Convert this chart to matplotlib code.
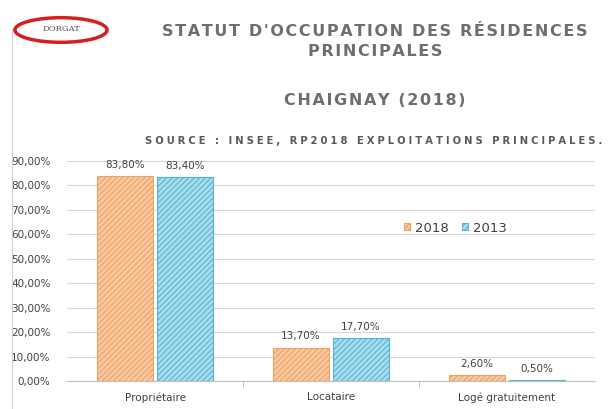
import numpy as np
import matplotlib.pyplot as plt
from matplotlib.patches import Ellipse

# Data
categories = ['Propriétaire', 'Locataire', 'Logé gratuitement']
vals_2018 = [83.8, 13.7, 2.6]
vals_2013 = [83.4, 17.7, 0.5]
labels_2018 = ['83,80%', '13,70%', '2,60%']
labels_2013 = ['83,40%', '17,70%', '0,50%']
yticks = [0, 10, 20, 30, 40, 50, 60, 70, 80, 90]


def spaced(s, sep='\u200a'):
    # mimic letter-spacing
    return sep.join(s)


plt.rcParams['hatch.linewidth'] = 0.8
fig = plt.figure(figsize=(6.15, 4.09), dpi=100)
ax = fig.add_axes([67/615, 1 - 381/409, 528/615, 220/409])

x = np.arange(len(categories))
w = 0.32
b1 = ax.bar(x - w/2 - 0.01, vals_2018, w, color='#F8C9A0', edgecolor='#EFA262',
            hatch='//////', linewidth=0.8, label='2018')
b2 = ax.bar(x + w/2 + 0.01, vals_2013, w, color='#A9DDEE', edgecolor='#55B4D4',
            hatch='//////', linewidth=0.8, label='2013')

for r, t in zip(b1, labels_2018):
    ax.text(r.get_x() + r.get_width()/2, r.get_height() + 2.5, t,
            ha='center', va='bottom', fontsize=7.5, color='#404040')
for r, t in zip(b2, labels_2013):
    ax.text(r.get_x() + r.get_width()/2, r.get_height() + 2.5, t,
            ha='center', va='bottom', fontsize=7.5, color='#404040')

ax.set_xlim(-0.5, 2.5)
ax.set_ylim(0, 90)
ax.set_yticks(yticks)
ax.set_yticklabels(['%d,00%%' % v for v in yticks], fontsize=7.5, color='#404040')
ax.set_xticks(x)
ax.set_xticklabels(categories, fontsize=7.5, color='#404040')
ax.tick_params(axis='y', length=0, pad=12)
ax.tick_params(axis='x', length=0, pad=8)
ax.set_xticks([0.5, 1.5], minor=True)
ax.tick_params(axis='x', which='minor', length=4, color='#BFBFBF', direction='out')
ax.yaxis.grid(True, color='#D9D9D9', linewidth=0.8)
ax.set_axisbelow(True)
for s in ['top', 'right', 'left']:
    ax.spines[s].set_visible(False)
ax.spines['bottom'].set_color('#BFBFBF')

ax.legend(loc='center left', bbox_to_anchor=(0.615, 0.695), ncol=2, frameon=False,
          fontsize=9.5, handlelength=0.45, handleheight=0.45, columnspacing=1.0,
          handletextpad=0.4, labelcolor='#404040')

# titles
fig.text(0.61, 0.922, spaced("STATUT D'OCCUPATION DES RÉSIDENCES"), ha='center', va='center',
         fontsize=11.5, fontweight='bold', color='#6E6E6E')
fig.text(0.61, 0.873, spaced("PRINCIPALES"), ha='center', va='center',
         fontsize=11.5, fontweight='bold', color='#6E6E6E')
fig.text(0.61, 0.755, spaced("CHAIGNAY (2018)"), ha='center', va='center',
         fontsize=11.5, fontweight='bold', color='#6E6E6E')
fig.text(0.235, 0.655, spaced("SOURCE : INSEE, RP2018 EXPLOITATIONS PRINCIPALES.", sep='\u2009\u200a'),
         ha='left', va='center', fontsize=7.2, fontweight='bold', color='#595959')

# logo
lax = fig.add_axes([12/615, 1 - 48/409, 98/615, 36/409])
lax.set_xlim(0, 100)
lax.set_ylim(0, 38)
lax.axis('off')
lax.add_patch(Ellipse((50, 19), 94, 26, fill=False, edgecolor='#D42020', linewidth=2.5))
lax.text(50, 20, 'DORGAT', ha='center', va='center', fontsize=6, color='#555555',
         family='serif')

# left border line
fig.add_artist(plt.Line2D([12/615, 12/615], [0.0, 0.93], color='#D0D0D0', linewidth=0.8))

fig.savefig('out.png', dpi=100)
